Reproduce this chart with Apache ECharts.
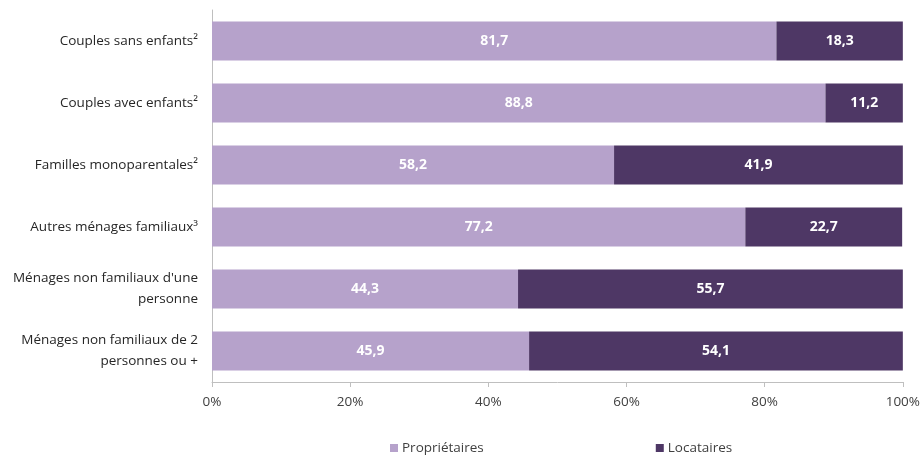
<!DOCTYPE html>
<html>
<head>
<meta charset="utf-8">
<script src="https://cdn.jsdelivr.net/npm/echarts@6/dist/echarts.min.js"></script>
<style>
  html, body { margin: 0; padding: 0; background: #ffffff; }
  #chart { width: 923px; height: 455px; }
</style>
</head>
<body>
<div id="chart"></div>
<script>
// Household categories (top to bottom)
const categories = [
  "Couples sans enfants²",
  "Couples avec enfants²",
  "Familles monoparentales²",
  "Autres ménages familiaux³",
  "Ménages non familiaux d'une\npersonne",
  "Ménages non familiaux de 2\npersonnes ou +"
];
// Share of owners and tenants (%)
const proprietaires = [81.7, 88.8, 58.2, 77.2, 44.3, 45.9];
const locataires = [18.3, 11.2, 41.9, 22.7, 55.7, 54.1];
const seriesNames = ["Propriétaires", "Locataires"];
const xTicks = [0, 20, 40, 60, 80, 100];

const fontFamily = "'Open Sans', 'Liberation Sans', sans-serif";
const fmt = v => v.toFixed(1).replace('.', ',');

const chart = echarts.init(document.getElementById('chart'));
chart.setOption({
  animation: false,
  textStyle: { fontFamily: fontFamily },
  grid: { left: 212, right: 18, top: 10, bottom: 73, containLabel: false },
  legend: {
    data: seriesNames,
    top: 436,
    left: 385,
    itemGap: 172,
    itemWidth: 8,
    itemHeight: 8,
    icon: 'rect',
    textStyle: { fontSize: 13.5, color: '#404040', fontFamily: fontFamily, padding: [0, 0, 0, -1] }
  },
  xAxis: {
    type: 'value',
    min: xTicks[0],
    max: xTicks[xTicks.length - 1],
    interval: 20,
    axisLine: { show: true, lineStyle: { color: '#bfbfbf' } },
    axisTick: { show: true, length: 5, lineStyle: { color: '#bfbfbf' } },
    splitLine: { show: false },
    axisLabel: { formatter: v => v + '%', color: '#404040', fontSize: 13.5, margin: 13, fontFamily: fontFamily }
  },
  yAxis: {
    type: 'category',
    data: categories,
    inverse: true,
    axisLine: { show: true, lineStyle: { color: '#bfbfbf' } },
    axisTick: { show: false },
    axisLabel: { color: '#262626', fontSize: 13.5, margin: 14, lineHeight: 21, align: 'right', fontFamily: fontFamily }
  },
  series: [
    {
      name: seriesNames[0],
      type: 'bar',
      stack: 'total',
      data: proprietaires,
      barWidth: '63%',
      itemStyle: { color: '#b6a2cb' },
      label: { show: true, position: 'inside', color: '#ffffff', fontWeight: 'bold', fontSize: 14, formatter: p => fmt(p.value) }
    },
    {
      name: seriesNames[1],
      type: 'bar',
      stack: 'total',
      data: locataires,
      barWidth: '63%',
      itemStyle: { color: '#4e3765' },
      label: { show: true, position: 'inside', color: '#ffffff', fontWeight: 'bold', fontSize: 14, formatter: p => fmt(p.value) }
    }
  ]
});
</script>
</body>
</html>
